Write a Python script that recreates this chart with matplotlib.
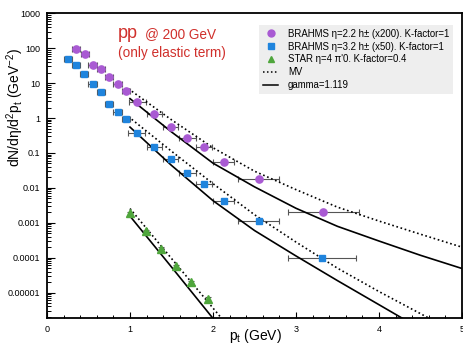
import numpy as np
import matplotlib
matplotlib.use('Agg')
import matplotlib.pyplot as plt
from matplotlib.lines import Line2D
from matplotlib.ticker import MultipleLocator, LogLocator, FixedLocator, FixedFormatter, NullFormatter

plt.rcParams['font.family'] = ['Liberation Sans', 'DejaVu Sans']
plt.rcParams['mathtext.fontset'] = 'custom'
plt.rcParams['mathtext.rm'] = 'Liberation Sans'
plt.rcParams['mathtext.it'] = 'Liberation Sans:italic'

# BRAHMS eta=2.2 (x200)
pt_b22 = [0.35, 0.46, 0.55, 0.65, 0.75, 0.85, 0.95, 1.09, 1.29, 1.49, 1.69, 1.89, 2.13, 2.55, 3.33]
y_b22 = [93, 67, 33, 26, 14.5, 9.3, 5.8, 2.9, 1.33, 0.57, 0.27, 0.145, 0.055, 0.018, 0.002]
xe_b22 = [0.05, 0.05, 0.05, 0.05, 0.05, 0.05, 0.05, 0.1, 0.09, 0.09, 0.1, 0.095, 0.125, 0.25, 0.43]

# BRAHMS eta=3.2 (x50)
pt_b32 = [0.25, 0.35, 0.45, 0.55, 0.65, 0.75, 0.85, 0.95, 1.08, 1.29, 1.49, 1.69, 1.89, 2.13, 2.55, 3.31]
y_b32 = [49, 33, 18.4, 9.3, 5.4, 2.5, 1.48, 0.91, 0.37, 0.145, 0.068, 0.027, 0.0128, 0.0043, 0.0011, 0.0001]
xe_b32 = [0.05, 0.05, 0.05, 0.05, 0.05, 0.05, 0.05, 0.05, 0.1, 0.09, 0.09, 0.1, 0.095, 0.125, 0.25, 0.41]

# STAR eta=4 pi0
pt_star = [1.0, 1.19, 1.37, 1.56, 1.73, 1.94]
y_star = [0.00185, 0.00058, 0.00018, 5.6e-5, 1.95e-5, 6.5e-6]
ye_star = [0.0002, 6e-5, 2e-5, 6e-6, 2.5e-6, 1.2e-6]

# MV curves (dotted)
mv_x1 = [0.98, 1.5, 2.0, 2.5, 3.0, 3.5, 4.0, 4.5, 5.0]
mv_y1 = [6.9, 0.89, 0.141, 0.030, 0.0089, 0.0028, 0.00112, 0.00047, 0.0002]
mv_x2 = [0.98, 1.5, 2.0, 2.5, 3.0, 3.5, 4.0, 4.6, 4.7]
mv_y2 = [1.1, 0.112, 0.0132, 0.0017, 0.00028, 5.0e-5, 1.07e-5, 1.86e-6, 1.4e-6]
mv_x3 = [1.0, 1.5, 2.15]
mv_y3 = [0.00255, 9.5e-5, 1.35e-6]

# gamma=1.119 curves (solid)
g_x1 = [1.0, 1.5, 2.0, 2.5, 3.0, 3.5, 4.0, 4.5, 5.0]
g_y1 = [3.6, 0.40, 0.051, 0.0107, 0.0026, 0.00079, 0.0003, 0.000117, 4.9e-5]
g_x2 = [1.0, 1.5, 2.0, 2.5, 3.0, 3.5, 4.0, 4.4]
g_y2 = [0.55, 0.044, 0.0043, 0.0006, 0.000112, 2.2e-5, 4.5e-6, 1.26e-6]
g_x3 = [1.0, 1.5, 2.05]
g_y3 = [0.00155, 5.4e-5, 1.3e-6]

purple = '#a95ad3'
blue = '#1f84dd'
green = '#4fa63c'
red = '#d0302c'

fig = plt.figure(figsize=(4.63, 3.5), dpi=100)
ax = fig.add_axes([0.1015, 0.0914, 0.8963, 0.8706])

ebar = dict(ecolor='#555555', elinewidth=0.8, capsize=2, capthick=0.8, linestyle='none')
ax.errorbar(pt_b22, y_b22, xerr=xe_b22, marker='o', ms=5.2, mfc=purple, mec=purple, **ebar)
ax.errorbar(pt_b32, y_b32, xerr=xe_b32, marker='s', ms=4.2, mfc=blue, mec=blue, **ebar)
ax.errorbar(pt_star, y_star, yerr=ye_star, marker='^', ms=5.2, mfc=green, mec=green, **ebar)

for xs, ys in [(mv_x1, mv_y1), (mv_x2, mv_y2), (mv_x3, mv_y3)]:
    ax.plot(xs, ys, color='black', lw=1.2, ls=(0, (1, 1.6)))
for xs, ys in [(g_x1, g_y1), (g_x2, g_y2), (g_x3, g_y3)]:
    ax.plot(xs, ys, color='black', lw=1.2)

ax.set_yscale('log')
ax.set_xlim(0, 5)
ax.set_ylim(1.87e-6, 1000)

ax.xaxis.set_major_locator(MultipleLocator(1))
ax.xaxis.set_minor_locator(MultipleLocator(0.2))
yt = [1e-5, 1e-4, 1e-3, 1e-2, 1e-1, 1, 10, 100, 1000]
ax.yaxis.set_major_locator(FixedLocator(yt))
ax.yaxis.set_major_formatter(FixedFormatter(['0.00001', '0.0001', '0.001', '0.01', '0.1', '1', '10', '100', '1000']))
ax.yaxis.set_minor_locator(LogLocator(base=10, subs=np.arange(2, 10)))
ax.yaxis.set_minor_formatter(NullFormatter())
ax.tick_params(which='both', direction='in', top=False, right=False, labelsize=6.5)
ax.tick_params(axis='y', which='major', length=6, width=0.8, pad=5)
ax.tick_params(axis='y', which='minor', length=3, width=0.7)
ax.tick_params(axis='x', which='major', length=4.5, width=0.8, pad=5)
ax.tick_params(axis='x', which='minor', length=2.5, width=0.7)
for s in ax.spines.values():
    s.set_linewidth(1.3)

fig.text(0.551, 0.015, r'p$_{\rm t}$ (GeV)', ha='center', va='bottom', fontsize=10)
fig.text(0.010, 0.862, r'dN/dη/d$^2$p$_{\rm t}$ (GeV$^{-2}$)', rotation=90, ha='left', va='top', fontsize=10)

fig.text(118 / 463, 1 - 38 / 350, 'pp', color=red, fontsize=13, ha='left', va='baseline')
fig.text(145 / 463, 1 - 38.5 / 350, '@ 200 GeV', color=red, fontsize=9.8, ha='left', va='baseline')
fig.text(118 / 463, 1 - 56.5 / 350, '(only elastic term)', color=red, fontsize=9.8, ha='left', va='baseline')

handles = [
    Line2D([], [], marker='o', ls='none', ms=5, mfc=purple, mec=purple),
    Line2D([], [], marker='s', ls='none', ms=4, mfc=blue, mec=blue),
    Line2D([], [], marker='^', ms=5, ls='none', mfc=green, mec=green),
    Line2D([], [], color='black', lw=1.1, ls=(0, (1, 1.6))),
    Line2D([], [], color='black', lw=1.1),
]
labels = [
    'BRAHMS η=2.2 h± (x200). K-factor=1',
    'BRAHMS η=3.2 h± (x50). K-factor=1',
    "STAR η=4 π'0. K-factor=0.4",
    'MV',
    'gamma=1.119',
]
leg = ax.legend(handles, labels, loc='upper left', bbox_to_anchor=(0.511, 0.962), borderaxespad=0,
                fontsize=6.9, frameon=True, fancybox=False, facecolor='#eeeeee', edgecolor='none',
                framealpha=1, handlelength=1.6, handletextpad=1.0, labelspacing=0.3, borderpad=0.4)

fig.savefig('out.png', dpi=100)
